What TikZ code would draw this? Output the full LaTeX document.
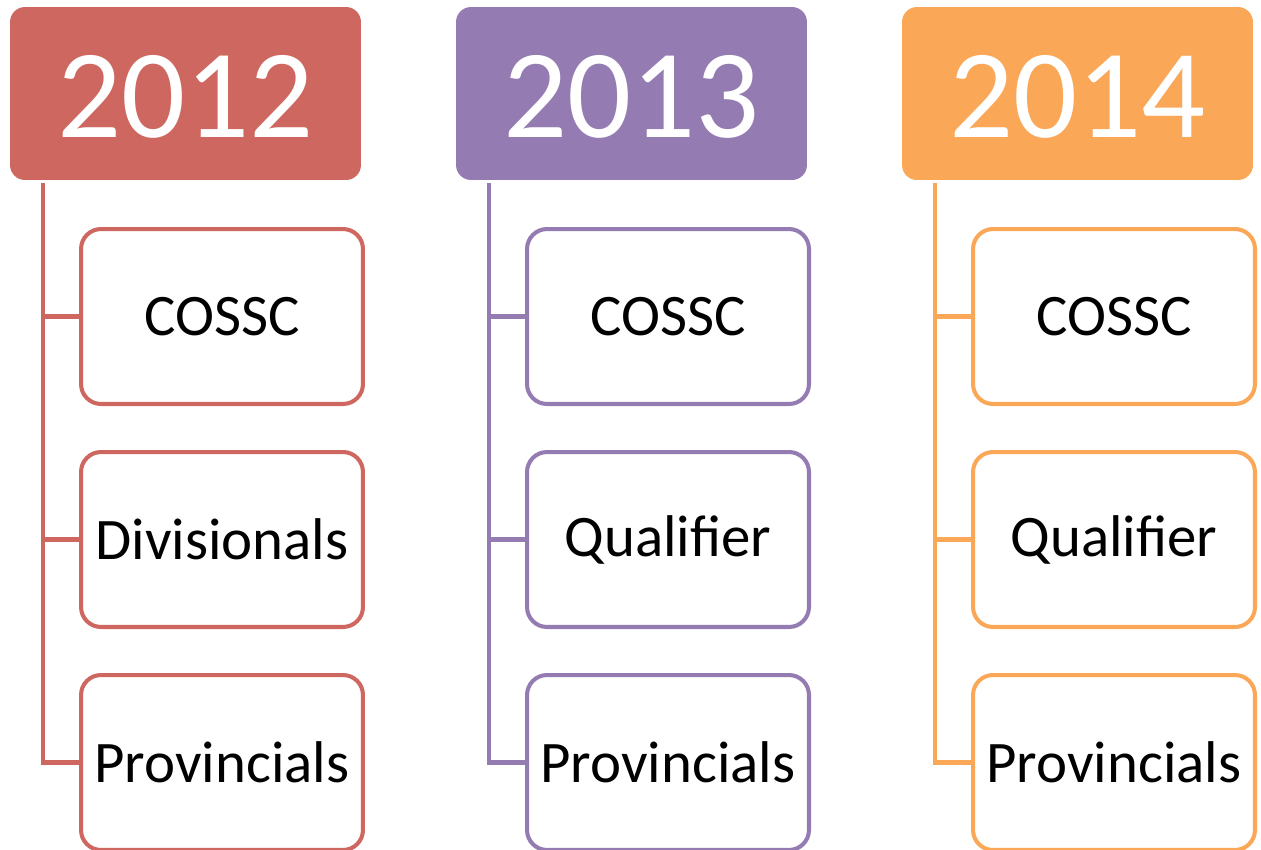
\documentclass[tikz,border=0pt]{standalone}
\usepackage{fontspec}
\setmainfont{Carlito}
\definecolor{redyear}{RGB}{205,103,95}
\definecolor{purpleyear}{RGB}{148,123,177}
\definecolor{orangeyear}{RGB}{250,168,88}
\begin{document}
\begin{tikzpicture}[x=0.02cm,y=-0.02cm,
    yearbox/.style={fill=#1, rounded corners=0.3cm, minimum width=7.02cm,
      minimum height=3.46cm, inner sep=0pt, text=white, text height=51pt,
      font=\fontsize{72}{86}\selectfont},
    itembox/.style={draw=#1, line width=2.3pt, fill=white, rounded corners=0.4cm,
      minimum width=5.64cm, minimum height=3.5cm, inner sep=0pt,
      font=\fontsize{33.5}{40}\selectfont},
    branch/.style={draw=#1, line width=2.3pt}]

    \useasboundingbox (0,0) rectangle (1261,849);

    \foreach \col/\year/\clr/\second in
      {0/2012/redyear/Divisionals, 1/2013/purpleyear/Qualifier, 2/2014/orangeyear/Qualifier}
    {
      \node[yearbox=\clr] (year\year) at (185.5+446*\col, 93.5) {\year};
      \node[itembox=\clr] (cossc\year) at (222+446*\col, 316.5) {COSSC};
      \node[itembox=\clr] (second\year) at (222+446*\col, 539.5) {\second};
      \node[itembox=\clr] (prov\year) at (222+446*\col, 762.5) {Provincials};
      \coordinate (trunk\year) at (43+446*\col, 183);
      \draw[branch=\clr] (trunk\year) |- (prov\year.west);
      \draw[branch=\clr] (trunk\year |- cossc\year.west) -- (cossc\year.west);
      \draw[branch=\clr] (trunk\year |- second\year.west) -- (second\year.west);
    }
  \end{tikzpicture}
\end{document}
